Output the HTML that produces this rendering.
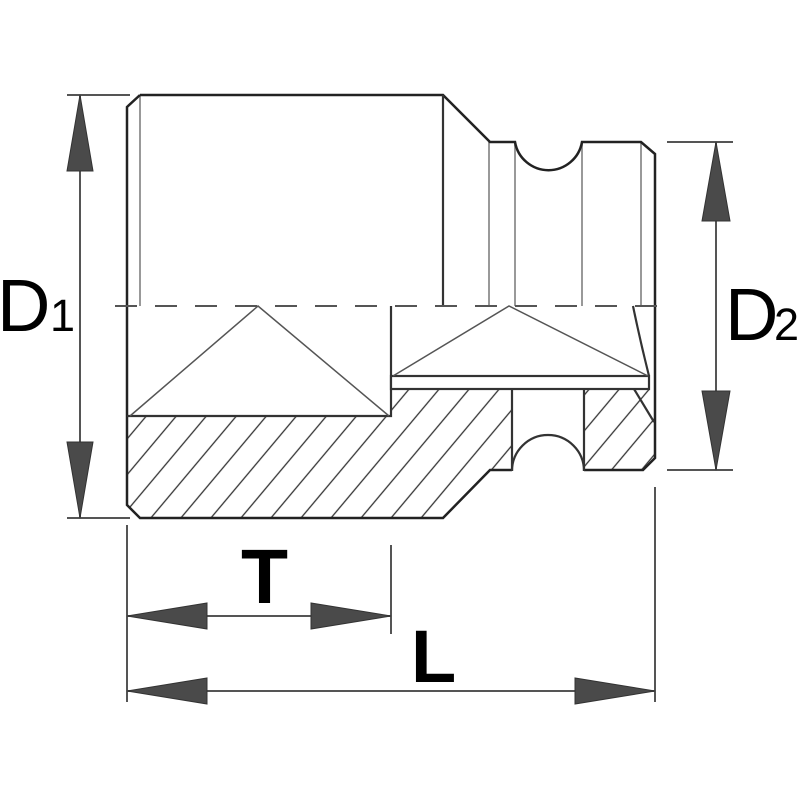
<!DOCTYPE html>
<html><head><meta charset="utf-8"><style>html,body{margin:0;padding:0;background:#fff}svg{display:block}</style></head>
<body>
<svg width="800" height="800" viewBox="0 0 800 800" xmlns="http://www.w3.org/2000/svg">
<defs>
<pattern id="h" patternUnits="userSpaceOnUse" width="23" height="23" patternTransform="rotate(40)">
<line x1="11.5" y1="-5" x2="11.5" y2="30" stroke="#333" stroke-width="1.3"/>
</pattern>
</defs>
<g fill="url(#h)" stroke="none">
<polygon points="127,416 391,416 391,389 512,389 512,471 490,471 443,518 140,518 127,505"/>
<polygon points="584,389 649,389 655,400 655,458 643,470 584,470"/>
</g>
<path d="M512,471 L512,389 L584,389 L584,471 Z" fill="#fff"/>
<path d="M512,471 A36,36 0 0 1 584,471" fill="none" stroke="#333" stroke-width="2.2"/>
<g stroke="#999" stroke-width="2" fill="none">
<line x1="140" y1="95" x2="140" y2="306"/>
<line x1="489" y1="142" x2="489" y2="306"/>
<line x1="515" y1="142" x2="515" y2="306"/>
<line x1="582" y1="142" x2="582" y2="306"/>
<line x1="641" y1="142" x2="641" y2="306"/>
</g>
<path d="M140,95 L443,95 L490,142 L515,142 A34,34 0 0 0 582,142 L641,142 L655,154 L655,458 L643,470 L584,470 M512,470 L490,470 L443,518 L140,518 L127,505 L127,107 L140,95" fill="none" stroke="#222" stroke-width="2.5" stroke-linejoin="miter"/>
<line x1="443" y1="95" x2="443" y2="306" stroke="#333" stroke-width="2.2"/>
<line x1="115" y1="306" x2="665" y2="306" stroke="#555" stroke-width="2" stroke-dasharray="22,18"/>
<g stroke="#333" stroke-width="2.2" fill="none">
<polyline points="391,306 391,416 127,416"/>
<line x1="512" y1="389" x2="512" y2="471"/>
<line x1="584" y1="389" x2="584" y2="471"/>
<rect x="391" y="376" width="258" height="13" fill="#fff"/>
<line x1="634" y1="389" x2="654" y2="422"/>
<path d="M633,306 Q640,340 649,376"/>
</g>
<g stroke="#555" stroke-width="1.5" fill="none">
<polyline points="130,416 258,306 389,416"/>
<polyline points="393,376 509,306 648,376"/>
</g>
<g stroke="#555" stroke-width="2" fill="none">
<line x1="67" y1="95" x2="130" y2="95"/>
<line x1="67" y1="518" x2="130" y2="518"/>
<line x1="80" y1="95" x2="80" y2="518"/>
<line x1="667" y1="142" x2="733" y2="142"/>
<line x1="667" y1="470" x2="733" y2="470"/>
<line x1="716" y1="142" x2="716" y2="470"/>
<line x1="127" y1="525" x2="127" y2="702"/>
<line x1="391" y1="545" x2="391" y2="634"/>
<line x1="655" y1="487" x2="655" y2="702"/>
<line x1="127" y1="616" x2="391" y2="616"/>
<line x1="127" y1="691" x2="655" y2="691"/>
</g>
<g fill="#4a4a4a" stroke="#333" stroke-width="1">
<polygon points="80,95 67,171 93,171"/>
<polygon points="80,518 67,442 93,442"/>
<polygon points="716,142 702,221 730,221"/>
<polygon points="716,470 702,391 730,391"/>
<polygon points="127,616 207,603 207,629"/>
<polygon points="391,616 311,603 311,629"/>
<polygon points="127,691 207,678 207,704"/>
<polygon points="655,691 575,678 575,704"/>
</g>
<g font-family="Liberation Sans, sans-serif" fill="#000">
<text x="-3" y="331" font-size="74">D</text>
<text x="50" y="331" font-size="45">1</text>
<text x="725" y="340" font-size="74">D</text>
<text x="774" y="340" font-size="45">2</text>
<text x="241" y="603" font-size="77" font-weight="bold">T</text>
<text x="411" y="682" font-size="74" font-weight="bold">L</text>
</g>
</svg>
</body></html>
